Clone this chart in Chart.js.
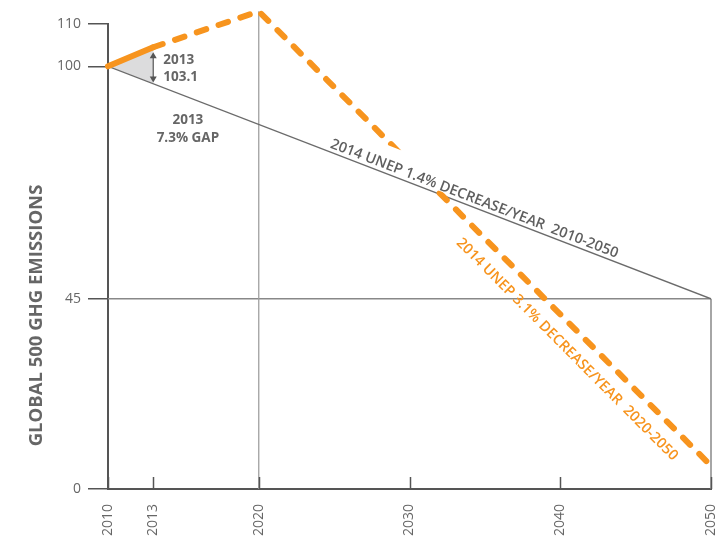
<!DOCTYPE html>
<html><head><meta charset="utf-8">
<script src="https://cdn.jsdelivr.net/npm/chart.js@4"></script>
<style>html,body{margin:0;padding:0;background:#fff}#wrap{width:725px;height:558px}</style>
</head><body><div id="wrap"><canvas id="c" width="725" height="558"></canvas></div>
<script>
// ---- data ----
const pathYears = [2010, 2013, 2020, 2050];
const pathValues = [100, 104.5, 113, 5.5];          // orange pathway
const targetYears = [2010, 2050];
const targetValues = [100, 45];                      // 1.4%/yr target line
const gapYears = [2010, 2013, 2013];
const gapValues = [100, 104.5, 95.9];                // shaded 2013 gap
const xTickYears = [2010, 2013, 2020, 2030, 2040, 2050];
const yTickValues = [0, 45, 100, 110];
const refYear = 2020;
const refLevel = 45;
const yTitle = 'GLOBAL 500 GHG EMISSIONS';
const gapLabel = ['2013', '103.1'];
const gapPctLabel = ['2013', '7.3% GAP'];
const targetLabel = '2014 UNEP 1.4% DECREASE/YEAR  2010-2050';
const pathwayLabel = '2014 UNEP 3.1% DECREASE/YEAR  2020-2050';

const ORANGE = '#F7941E';
const GREY = '#666666';
const FONT = "'Open Sans', 'DejaVu Sans', sans-serif";

const pts = (xs, ys) => xs.map((x, i) => ({x, y: ys[i]}));

const annot = {
  id: 'annot',
  afterDatasetsDraw(chart) {
    const ctx = chart.ctx, xs = chart.scales.x, ys = chart.scales.y;
    const P = (x, y) => [xs.getPixelForValue(x), ys.getPixelForValue(y)];
    ctx.save();
    // inner x tick marks
    ctx.strokeStyle = '#555'; ctx.lineWidth = 1.5;
    xTickYears.forEach(v => {
      const px = Math.round(xs.getPixelForValue(v)) + 0.5;
      ctx.beginPath(); ctx.moveTo(px, chart.chartArea.bottom); ctx.lineTo(px, chart.chartArea.bottom - 12); ctx.stroke();
    });
    // double arrow at 2013
    const [ax, ayTop] = P(gapYears[1], gapValues[1]);
    const [, ayBot] = P(gapYears[2], gapValues[2]);
    ctx.strokeStyle = '#555'; ctx.fillStyle = '#555'; ctx.lineWidth = 1.2;
    const t = ayTop + 5, b = ayBot - 1;
    ctx.beginPath(); ctx.moveTo(ax, t + 3); ctx.lineTo(ax, b - 3); ctx.stroke();
    ctx.beginPath(); ctx.moveTo(ax, t); ctx.lineTo(ax - 3.5, t + 6); ctx.lineTo(ax + 3.5, t + 6); ctx.closePath(); ctx.fill();
    ctx.beginPath(); ctx.moveTo(ax, b); ctx.lineTo(ax - 3.5, b - 6); ctx.lineTo(ax + 3.5, b - 6); ctx.closePath(); ctx.fill();
    // 2013 / 103.1
    ctx.fillStyle = GREY; ctx.font = `bold 13.5px ${FONT}`;
    ctx.textAlign = 'left'; ctx.textBaseline = 'middle';
    ctx.fillText(gapLabel[0], ax + 10, ayTop + 13);
    ctx.fillText(gapLabel[1], ax + 10, ayTop + 30);
    // 2013 / 7.3% GAP
    ctx.textAlign = 'center';
    const gx = xs.getPixelForValue(2015.3);
    ctx.fillText(gapPctLabel[0], gx, ayBot + 37);
    ctx.fillText(gapPctLabel[1], gx, ayBot + 55);
    // target line label with knockout
    const [t0x, t0y] = P(targetYears[0], targetValues[0]);
    const [t1x, t1y] = P(targetYears[1], targetValues[1]);
    const ang = Math.atan2(t1y - t0y, t1x - t0x);
    const f = (xs.getPixelForValue(2024.6) - t0x) / (t1x - t0x);
    ctx.save();
    ctx.translate(t0x + f * (t1x - t0x), t0y + f * (t1y - t0y));
    ctx.rotate(ang);
    ctx.font = `600 14.5px ${FONT}`;
    const w = ctx.measureText(targetLabel).width;
    ctx.fillStyle = '#fff';
    ctx.fillRect(-3, -27, w + 6, 24);
    ctx.fillStyle = '#5f5f5f'; ctx.textAlign = 'left'; ctx.textBaseline = 'alphabetic';
    ctx.fillText(targetLabel, 0, -4);
    ctx.restore();
    // pathway label
    const [p0x, p0y] = P(pathYears[2], pathValues[2]);
    const [p1x, p1y] = P(pathYears[3], pathValues[3]);
    const ang2 = Math.atan2(p1y - p0y, p1x - p0x);
    const g = (xs.getPixelForValue(2034.2) - p0x) / (p1x - p0x);
    ctx.save();
    ctx.translate(p0x + g * (p1x - p0x), p0y + g * (p1y - p0y));
    ctx.rotate(ang2);
    ctx.font = `600 14.5px ${FONT}`;
    ctx.fillStyle = ORANGE; ctx.textAlign = 'left'; ctx.textBaseline = 'middle';
    ctx.fillText(pathwayLabel, 0, 20);
    ctx.restore();
    // y title
    ctx.save();
    ctx.translate(37, (chart.chartArea.top + chart.chartArea.bottom) / 2 + 59);
    ctx.rotate(-Math.PI / 2);
    ctx.font = `bold 18.5px ${FONT}`; ctx.fillStyle = GREY;
    ctx.textAlign = 'center'; ctx.textBaseline = 'middle';
    ctx.fillText(yTitle, 0, 0);
    ctx.restore();
    ctx.restore();
  }
};

new Chart(document.getElementById('c'), {
  type: 'line',
  data: {
    datasets: [
      { data: pts(pathYears, pathValues), borderColor: ORANGE, borderWidth: 6,
        borderCapStyle: 'round', borderJoinStyle: 'round', pointRadius: 0, clip: false, order: 0,
        segment: { borderDash: c => c.p0DataIndex === 0 ? [] : [10, 13] } },
      { data: pts(targetYears, targetValues), borderColor: '#6b6b6b', borderWidth: 1.3, pointRadius: 0, order: 1 },
      { data: [{x: refYear, y: 0}, {x: refYear, y: pathValues[2]}], borderColor: '#a0a0a0', borderWidth: 1.3, pointRadius: 0, clip: false, order: 2 },
      { data: [{x: targetYears[0], y: refLevel}, {x: targetYears[1], y: refLevel}], borderColor: '#888', borderWidth: 1.3, pointRadius: 0, clip: false, order: 2 },
      { data: [{x: targetYears[1], y: 0}, {x: targetYears[1], y: refLevel}], borderColor: '#888', borderWidth: 1.5, pointRadius: 0, clip: false, order: 2 },
      { data: pts(gapYears, gapValues), borderWidth: 0, backgroundColor: '#dcdcdd', fill: 'shape', pointRadius: 0, order: 10 }
    ]
  },
  options: {
    responsive: false, animation: false,
    layout: { padding: { top: 24, right: 14, left: 0, bottom: 0 } },
    plugins: { legend: { display: false }, tooltip: { enabled: false } },
    scales: {
      x: {
        type: 'linear', min: 2010, max: 2050,
        afterBuildTicks: s => { s.ticks = xTickYears.map(v => ({value: v})); },
        afterFit: s => { s.height = 69; s.paddingLeft = 0; s.paddingRight = 0; },
        grid: { display: false },
        border: { display: true, color: '#555', width: 2 },
        ticks: { autoSkip: false, minRotation: 90, maxRotation: 90, padding: 7,
                 color: GREY, font: { family: FONT, size: 14 }, callback: v => String(v) }
      },
      y: {
        min: 0, max: 110,
        afterBuildTicks: s => { s.ticks = yTickValues.map(v => ({value: v})); },
        afterFit: s => { s.width = 108; s.paddingTop = 0; s.paddingBottom = 0; },
        grid: { display: true, drawOnChartArea: false, drawTicks: true, tickLength: 20, color: '#555', lineWidth: 1.5 },
        border: { display: true, color: '#555', width: 2 },
        ticks: { padding: 7, color: GREY, font: { family: FONT, size: 14 }, callback: v => String(v) }
      }
    }
  },
  plugins: [annot]
});
</script></body></html>
